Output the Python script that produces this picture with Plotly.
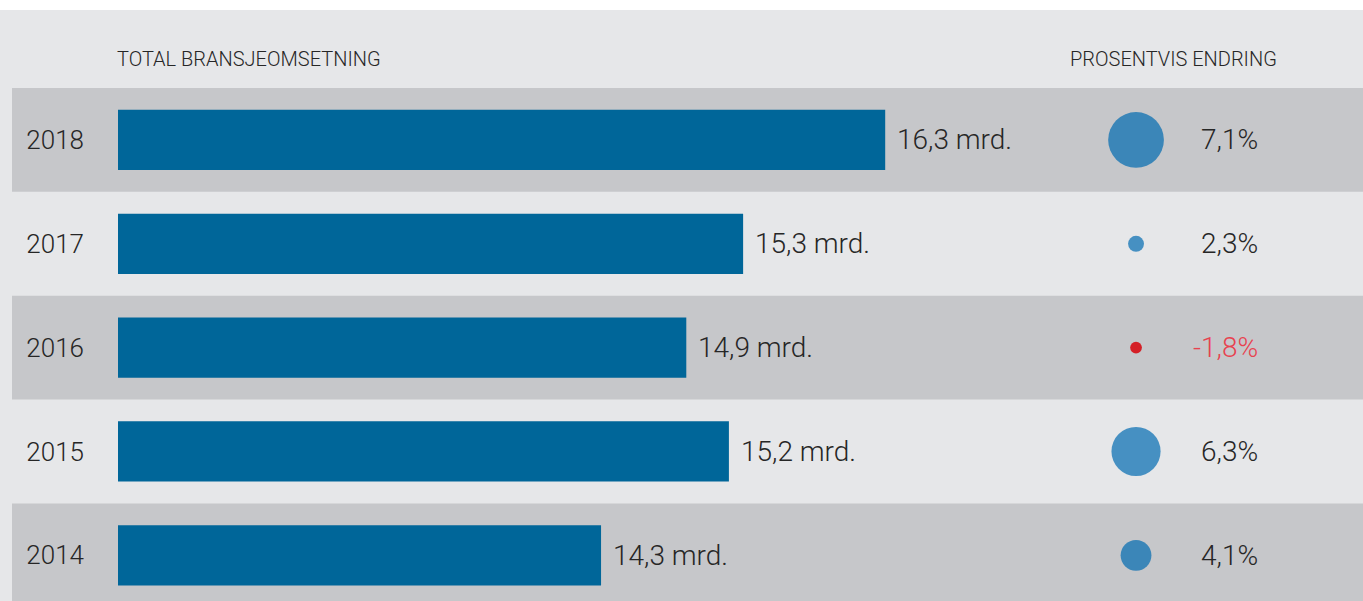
import plotly.graph_objects as go

years = ["2014", "2015", "2016", "2017", "2018"]
revenue = [14.3, 15.2, 14.9, 15.3, 16.3]          # mrd. NOK
revenue_labels = ["14,3 mrd.", "15,2 mrd.", "14,9 mrd.", "15,3 mrd.", "16,3 mrd."]
pct_change = [4.1, 6.3, -1.8, 2.3, 7.1]
pct_labels = ["4,1%", "6,3%", "-1,8%", "2,3%", "7,1%"]

header_left = "TOTAL BRANSJEOMSETNING"
header_right = "PROSENTVIS ENDRING"

FONT = "Roboto, sans-serif"
WEIGHT = 300
TXT = "#262626"
BG = "#e6e7e9"
ROW = "#c6c7ca"
BAR = "#006699"
DOT_DARK = "#3b86b8"
DOT_LIGHT = "#4690c2"
NEG_DOT = "#d42027"
NEG_TXT = "#e8424f"

W, H = 1363, 601
ypos = list(range(len(years)))
n = len(years)
dark_row = [(n - 1 - i) % 2 == 0 for i in ypos]

fig = go.Figure()

fig.add_trace(go.Bar(
    y=ypos, x=revenue, orientation="h",
    marker=dict(color=BAR, line=dict(width=0)),
    xaxis="x", yaxis="y", hoverinfo="skip", showlegend=False,
))

dot_sizes = [max(abs(p) * 8.3 - 3.2, 6) for p in pct_change]
dot_colors = [NEG_DOT if p < 0 else (DOT_DARK if d else DOT_LIGHT)
              for p, d in zip(pct_change, dark_row)]
fig.add_trace(go.Scatter(
    y=ypos, x=[0.198] * n, mode="markers",
    marker=dict(size=dot_sizes, color=dot_colors, line=dict(width=0), opacity=1),
    xaxis="x2", yaxis="y", hoverinfo="skip", showlegend=False, cliponaxis=False,
))

shapes = []
for y, d in zip(ypos, dark_row):
    if d:
        shapes.append(dict(type="rect", xref="paper", yref="y",
                           x0=12 / W, x1=1, y0=y - 0.5, y1=y + 0.5,
                           fillcolor=ROW, line=dict(width=0), layer="below"))
shapes.append(dict(type="rect", xref="paper", yref="paper", x0=0, x1=1,
                   y0=1 - 10 / H, y1=1.0, fillcolor="white", line=dict(width=0),
                   layer="below"))

annotations = []
for y, v, lab in zip(ypos, revenue, revenue_labels):
    annotations.append(dict(x=v, y=y, xref="x", yref="y", text=lab,
                            showarrow=False, xanchor="left", yanchor="middle",
                            xshift=10,
                            font=dict(family=FONT, size=28, color=TXT, weight=WEIGHT)))
for y, p, lab in zip(ypos, pct_change, pct_labels):
    annotations.append(dict(x=0.636, y=y, xref="x2", yref="y", text=lab,
                            showarrow=False, xanchor="right", yanchor="middle",
                            font=dict(family=FONT, size=28, weight=WEIGHT,
                                      color=NEG_TXT if p < 0 else TXT)))
annotations.append(dict(x=115 / W, y=1 - 59 / H, xref="paper", yref="paper",
                        text=header_left, showarrow=False, xanchor="left",
                        yanchor="middle",
                        font=dict(family=FONT, size=20, color=TXT, weight=WEIGHT)))
annotations.append(dict(x=1279 / W, y=1 - 59 / H, xref="paper", yref="paper",
                        text=header_right, showarrow=False, xanchor="right",
                        yanchor="middle",
                        font=dict(family=FONT, size=20, color=TXT, weight=WEIGHT)))

fig.update_layout(
    width=W, height=H,
    margin=dict(l=0, r=0, t=0, b=0),
    paper_bgcolor=BG, plot_bgcolor="rgba(0,0,0,0)",
    bargap=0.42,
    shapes=shapes, annotations=annotations,
    xaxis=dict(domain=[118 / W, 1050 / W], range=[10.9, 17.46],
               showgrid=False, zeroline=False, showticklabels=False,
               showline=False, fixedrange=True),
    xaxis2=dict(domain=[1080 / W, 1.0], range=[0, 1], anchor="y",
                showgrid=False, zeroline=False, showticklabels=False,
                showline=False, fixedrange=True),
    yaxis=dict(domain=[0, 1 - 88 / H], range=[-0.44, 4.5],
               tickvals=ypos, ticktext=years, ticks="",
               ticklabelstandoff=33,
               tickfont=dict(family=FONT, size=26, color=TXT, weight=WEIGHT),
               showgrid=False, zeroline=False, showline=False, fixedrange=True),
    font=dict(family=FONT, color=TXT),
)

fig.write_html("out.html", config={"displayModeBar": False},
               post_script="document.body.style.margin='0';")
